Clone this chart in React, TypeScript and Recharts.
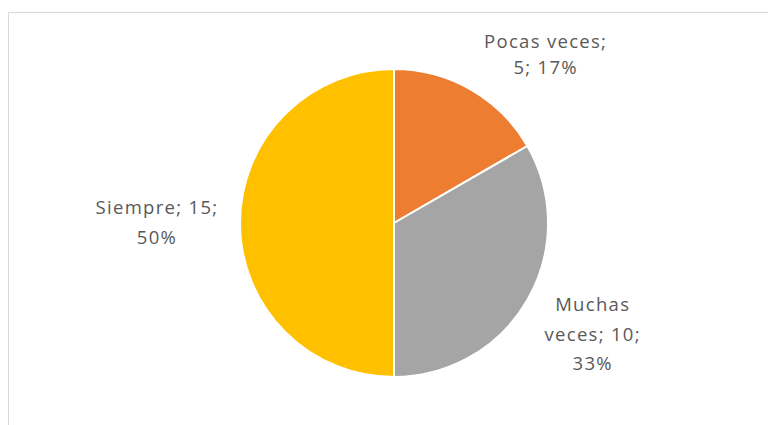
import React from 'react';
import { PieChart, Pie, Cell } from 'recharts';

const categories = ['Pocas veces', 'Muchas veces', 'Siempre'];
const counts = [5, 10, 15];
const percents = ['17%', '33%', '50%'];
const colors = ['#ED7D31', '#A5A5A5', '#FFC000'];

const data = categories.map((name, i) => ({ name, value: counts[i], pct: percents[i] }));

// label text broken into lines the way the original wraps them
const labelLines = (i: number) => {
  const d = data[i];
  if (i === 0) return [`${d.name};`, `${d.value}; ${d.pct}`];
  if (i === 1) return ['Muchas', `veces; ${d.value};`, d.pct];
  return [`${d.name}; ${d.value};`, d.pct];
};

// label anchor relative to pie centre (angle in degrees, distance in px)
const labelAnchor = [
  { angle: 48.3, dist: 228 },
  { angle: -28.9, dist: 227 },
  { angle: 179.5, dist: 237 },
];

const renderLabel = (props: any) => {
  const { cx, cy, index } = props;
  const a = labelAnchor[index];
  const rad = (a.angle * Math.PI) / 180;
  const x = cx + a.dist * Math.cos(rad);
  const y = cy - a.dist * Math.sin(rad);
  const lines = labelLines(index);
  const lh = index === 0 ? 26.5 : 29.5;
  const top = y - ((lines.length - 1) * lh) / 2;
  return (
    <text
      x={x}
      y={top}
      textAnchor="middle"
      dominantBaseline="central"
      fill="#595959"
      fontSize={18.5}
      letterSpacing={1.3}
      fontFamily="'Open Sans', sans-serif"
    >
      {lines.map((l, k) => (
        <tspan key={k} x={x} y={top + k * lh}>
          {l}
        </tspan>
      ))}
    </text>
  );
};

export default function App() {
  return (
    <div style={{ position: 'fixed', left: 0, top: 0, width: 768, height: 425, background: '#fff' }}>
      <div
        style={{
          position: 'absolute',
          left: 8,
          top: 12,
          width: 760,
          height: 413,
          borderLeft: '1px solid #d9d9d9',
          borderTop: '1px solid #d9d9d9',
          boxSizing: 'border-box',
        }}
      />
      <div style={{ position: 'absolute', left: 0, top: 0 }}>
        <PieChart width={768} height={425} margin={{ top: 0, right: 0, bottom: 0, left: 0 }}>
          <Pie
            data={data}
            dataKey="value"
            nameKey="name"
            cx={394}
            cy={223}
            outerRadius={154}
            startAngle={90}
            endAngle={-270}
            stroke="#ffffff"
            strokeWidth={2}
            label={renderLabel}
            labelLine={false}
            isAnimationActive={false}
          >
            {data.map((d, i) => (
              <Cell key={d.name} fill={colors[i]} />
            ))}
          </Pie>
        </PieChart>
      </div>
    </div>
  );
}
